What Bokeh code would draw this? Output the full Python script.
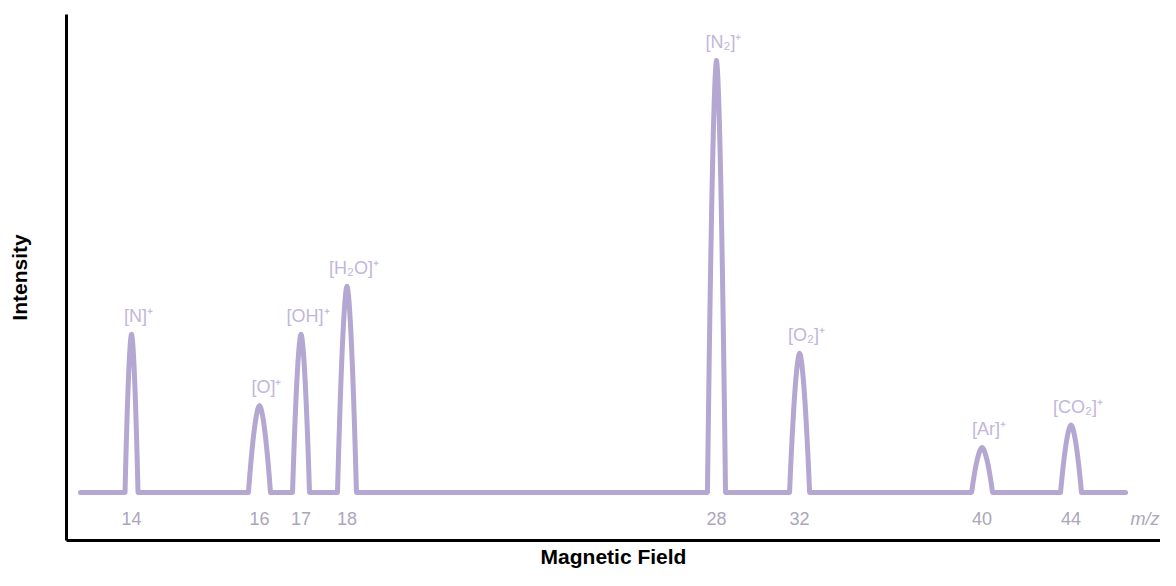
import numpy as np
from bokeh.plotting import figure
from bokeh.models import ColumnDataSource, LabelSet, Label, FixedTicker
from bokeh.core.properties import value
from bokeh.embed import file_html
from bokeh.resources import INLINE

# ---- data ----
ions = ["[N]⁺", "[O]⁺", "[OH]⁺", "[H₂O]⁺", "[N₂]⁺", "[O₂]⁺", "[Ar]⁺", "[CO₂]⁺"]
mz_labels = ["14", "16", "17", "18", "28", "32", "40", "44"]
field = [5.90, 17.51, 21.28, 25.45, 58.98, 66.52, 83.08, 91.15]      # magnetic field (arb. units)
intensity = [36.6, 20.1, 36.6, 47.7, 100.0, 32.2, 10.4, 15.6]        # relative intensity
peak_halfwidth = [0.59, 1.0, 0.77, 0.86, 0.82, 0.91, 0.95, 0.95]
scan_start, scan_end = 1.27, 96.1

LINE = "#b4a7d1"
ION_COLOR = "#c2b6db"
TICK_COLOR = "#aba6bb"
FONT = "Liberation Sans"

# ---- build the spectrum trace ----
xs = [scan_start]
ys = [0.0]
u = np.linspace(-1, 1, 41)
for c, h, w in zip(field, intensity, peak_halfwidth):
    xs.extend((c + u * w).tolist())
    ys.extend((h * (1 - np.abs(u) ** 1.7)).tolist())
xs.append(scan_end)
ys.append(0.0)

Y0, Y1 = -11.11, 110.65
p = figure(width=1160, height=570, x_range=(0, 99.27), y_range=(Y0, Y1),
           output_backend="svg", toolbar_location=None,
           min_border_left=66, min_border_right=0, min_border_top=14, min_border_bottom=30)
p.xgrid.visible = False
p.ygrid.visible = False
p.outline_line_color = None
p.background_fill_color = "white"

for ax in (p.xaxis[0], p.yaxis[0]):
    ax.ticker = FixedTicker(ticks=[])
    ax.major_tick_line_color = None
    ax.minor_tick_line_color = None
    ax.major_tick_out = 0
    ax.major_tick_in = 0
    ax.minor_tick_out = 0
    ax.minor_tick_in = 0
    ax.major_label_text_font_size = "0px"
    ax.major_label_standoff = 0
    ax.axis_line_width = 3
    ax.axis_line_color = "black"
    ax.axis_label_text_font = FONT
    ax.axis_label_text_font_style = "bold"
    ax.axis_label_text_font_size = "21px"
    ax.axis_label_text_color = "black"
p.yaxis[0].axis_label = "Intensity"
p.yaxis[0].axis_label_standoff = 36
p.xaxis[0].axis_label = "Magnetic Field"
p.xaxis[0].axis_label_standoff = 4

p.line(xs, ys, line_width=5, line_color=LINE, line_join="round", line_cap="round")

src = ColumnDataSource(dict(
    field=field,
    label_y=[h + 1.9 for h in intensity],
    ion=ions,
    mz=mz_labels,
))

p.add_layout(LabelSet(x="field", y="label_y", text="ion", source=src,
                      text_align="center", text_baseline="bottom", x_offset=7,
                      text_font=value(FONT), text_font_size=value("18px"),
                      text_color=ION_COLOR))
p.add_layout(LabelSet(x="field", y=-6.02, text="mz", source=src,
                      text_align="center", text_baseline="middle",
                      text_font=value(FONT), text_font_size=value("18px"),
                      text_color=TICK_COLOR))
p.add_layout(Label(x=99.27, y=-6.02, text="m/z", text_align="right", text_baseline="middle",
                   text_font=FONT, text_font_size="18px", text_font_style="italic",
                   text_color=TICK_COLOR, x_offset=-1))

open("out.html", "w").write(file_html(p, INLINE))
